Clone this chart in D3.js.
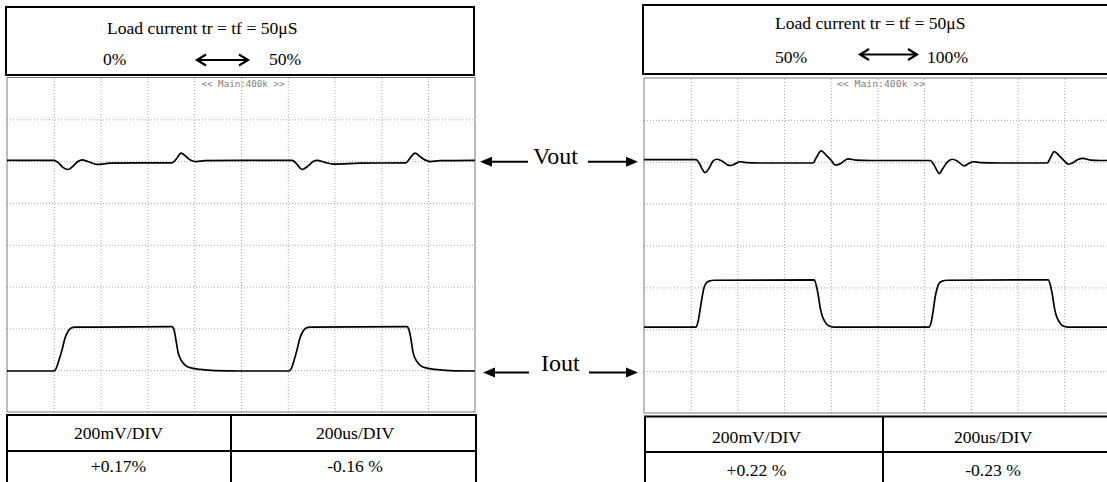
<!DOCTYPE html>
<html>
<head>
<meta charset="utf-8">
<script src="https://cdn.jsdelivr.net/npm/d3@7/dist/d3.min.js"></script>
<style>
body {
  margin: 0;
  background-color: white;
}
svg text {
  font-family: "Liberation Serif", "Times New Roman", serif;
  fill: black;
}
.grid line {
  stroke: #a8a8a8;
  stroke-dasharray: 1,2;
}
.grid path {
  display: none;
}
.tag {
  font-family: "DejaVu Sans Mono", monospace;
  font-size: 8.5px;
  fill: #808080 !important;
}
</style>
</head>
<body>
<script>

// scope settings: 200us/DIV over 10 divisions, 8 vertical divisions
const timeTicks = d3.range(200, 2000, 200);
const levelTicks = d3.range(1, 8, 1);

// traces: [time in us, screen level in divisions]
const leftVout = [[0,6.02],[200,6.02],[218,5.97],[239,5.85],[261,5.80],[282,5.88],[303,5.99],[321,6.03],[346,5.99],[385,5.92],[440,5.95],[568,5.96],[705,5.96],[722,6.04],[744,6.19],[765,6.11],[786,6.02],[808,5.99],[846,6.01],[996,6.02],[1218,6.02],[1235,5.95],[1261,5.80],[1286,5.88],[1308,5.99],[1325,6.02],[1359,5.97],[1393,5.93],[1509,5.95],[1705,5.96],[1722,6.07],[1744,6.19],[1765,6.11],[1786,6.03],[1808,5.99],[1850,6.01],[2000,6.02]];
const leftIout = [[0,0.98],[201,0.98],[209,1.03],[222,1.24],[235,1.48],[248,1.77],[261,1.93],[274,2.01],[291,2.03],[397,2.03],[705,2.04],[714,1.96],[722,1.72],[731,1.43],[744,1.24],[761,1.12],[782,1.06],[825,1.02],[889,0.99],[996,0.98],[1205,0.98],[1214,1.03],[1227,1.24],[1239,1.48],[1252,1.77],[1265,1.93],[1278,2.01],[1295,2.03],[1709,2.04],[1718,1.96],[1727,1.72],[1735,1.43],[1748,1.24],[1765,1.12],[1786,1.06],[1829,1.02],[1893,0.99],[2000,0.98]];
const rightVout = [[0,6.05],[223,6.05],[236,5.97],[249,5.83],[261,5.74],[279,5.85],[296,6.02],[313,6.06],[334,6.02],[356,5.93],[373,5.91],[390,5.95],[411,6.00],[437,5.98],[497,5.97],[724,5.97],[737,6.09],[759,6.26],[780,6.16],[801,6.04],[819,5.92],[840,5.95],[874,6.07],[909,6.04],[969,6.03],[1226,6.03],[1239,5.95],[1251,5.83],[1264,5.72],[1281,5.85],[1299,5.99],[1320,6.06],[1341,6.02],[1371,5.90],[1389,5.95],[1410,6.00],[1440,5.98],[1526,5.97],[1727,5.97],[1740,6.09],[1757,6.24],[1779,6.14],[1800,6.02],[1817,5.94],[1839,5.98],[1856,6.05],[1881,6.08],[1911,6.04],[1954,6.03],[2000,6.03]];
const rightIout = [[0,2.05],[223,2.05],[231,2.17],[240,2.46],[249,2.77],[257,2.99],[266,3.10],[279,3.15],[300,3.17],[729,3.18],[737,3.06],[746,2.82],[754,2.53],[763,2.32],[776,2.17],[789,2.09],[814,2.05],[883,2.05],[1221,2.05],[1230,2.17],[1239,2.46],[1247,2.77],[1256,2.99],[1264,3.10],[1277,3.15],[1299,3.17],[1731,3.18],[1740,3.06],[1749,2.82],[1757,2.53],[1766,2.32],[1779,2.17],[1791,2.09],[1817,2.05],[1869,2.05],[2000,2.05]];

const titleText = "Load current tr = tf = 50\u03bcS";
const leftSteps = ["0%", "50%"];
const rightSteps = ["50%", "100%"];
const scaleLabels = ["200mV/DIV", "200us/DIV"];
const leftDeviation = ["+0.17%", "-0.16 %"];
const rightDeviation = ["+0.22 %", "-0.23 %"];
const scopeTag = "<< Main:400k >>";
const traceNames = ["Vout", "Iout"];

const svg = d3.select("body")
            .append("svg")
            .attr("width", 1107)
            .attr("height", 482);

const fs = 17.6;

// panel geometry
const panels = [
  {
    box: {x: 6, y: 7, w: 468, h: 68, titleX: 107, titleY: 34, stepY: 65, fromX: 103, arrow: [197, 248, 60], toX: 269},
    scope: {x: 7, y: 77.5, w: 468, h: 334.5, tagX: 201.5, tagW: 83},
    table: {x: 7, y: 415, w: 469, mid: 231, row: 451, c1: 118.5, c2: 355, b1: 438.5, b2: 472},
    vout: leftVout, iout: leftIout, steps: leftSteps, dev: leftDeviation
  },
  {
    box: {x: 643, y: 5, w: 470, h: 69, titleX: 775, titleY: 29, stepY: 63, fromX: 775, arrow: [860, 917, 54.5], toX: 927},
    scope: {x: 644, y: 78, w: 467, h: 335, tagX: 837, tagW: 88},
    table: {x: 645, y: 416.5, w: 470, mid: 883, row: 452, c1: 756.5, c2: 993, b1: 443, b2: 476},
    vout: rightVout, iout: rightIout, steps: rightSteps, dev: rightDeviation
  }
];

const line = d3.line().curve(d3.curveMonotoneX);

panels.forEach((p, i) => {
  const b = p.box, s = p.scope, t = p.table;

  // header box
  svg.append("rect")
     .attr("x", b.x).attr("y", b.y).attr("width", b.w).attr("height", b.h)
     .attr("fill", "none").attr("stroke", "black").attr("stroke-width", 2);
  svg.append("text").attr("x", b.titleX).attr("y", b.titleY)
     .attr("font-size", fs).text(titleText);
  svg.append("text").attr("x", b.fromX).attr("y", b.stepY)
     .attr("font-size", fs).text(p.steps[0]);
  svg.append("text").attr("x", b.toX).attr("y", b.stepY)
     .attr("font-size", fs).text(p.steps[1]);
  const [ax0, ax1, ay] = b.arrow;
  svg.append("path")
     .attr("d", `M${ax0},${ay}H${ax1}M${ax0 + 9},${ay - 5.5}L${ax0},${ay}L${ax0 + 9},${ay + 5.5}M${ax1 - 9},${ay - 5.5}L${ax1},${ay}L${ax1 - 9},${ay + 5.5}`)
     .attr("fill", "none").attr("stroke", "black").attr("stroke-width", 2.2);

  // scope screen
  const x = d3.scaleLinear().domain([0, 2000]).range([s.x, s.x + s.w]);
  const y = d3.scaleLinear().domain([0, 8]).range([s.y + s.h, s.y]);

  svg.append("clipPath").attr("id", "clip" + i)
     .append("rect").attr("x", s.x).attr("y", s.y).attr("width", s.w).attr("height", s.h);

  svg.append("g")
     .attr("class", "grid")
     .attr("transform", `translate(0, ${s.y + s.h})`)
     .call(d3.axisBottom(x).tickValues(timeTicks).tickSize(-s.h).tickSizeOuter(0).tickFormat(""));
  svg.append("g")
     .attr("class", "grid")
     .attr("transform", `translate(${s.x}, 0)`)
     .call(d3.axisLeft(y).tickValues(levelTicks).tickSize(-s.w).tickSizeOuter(0).tickFormat(""));

  svg.append("rect")
     .attr("x", s.x).attr("y", s.y).attr("width", s.w).attr("height", s.h)
     .attr("fill", "none").attr("stroke", "#7a7a7a").attr("stroke-width", 1);

  svg.append("text").attr("class", "tag")
     .attr("x", s.tagX).attr("y", s.y + 9)
     .attr("textLength", s.tagW).attr("lengthAdjust", "spacingAndGlyphs")
     .text(scopeTag);

  [p.vout, p.iout].forEach(d => {
    svg.append("path")
       .attr("clip-path", `url(#clip${i})`)
       .attr("d", line(d.map(v => [x(v[0]), y(v[1])])))
       .attr("fill", "none").attr("stroke", "black").attr("stroke-width", 1.7);
  });

  // readings table
  svg.append("path")
     .attr("d", `M${t.x},482V${t.y}H${t.x + t.w}V482M${t.x},${t.row}H${t.x + t.w}M${t.mid},${t.y}V482`)
     .attr("fill", "none").attr("stroke", "black").attr("stroke-width", 2);
  svg.append("text").attr("x", t.c1).attr("y", t.b1).attr("text-anchor", "middle")
     .attr("font-size", fs).text(scaleLabels[0]);
  svg.append("text").attr("x", t.c2).attr("y", t.b1).attr("text-anchor", "middle")
     .attr("font-size", fs).text(scaleLabels[1]);
  svg.append("text").attr("x", t.c1).attr("y", t.b2).attr("text-anchor", "middle")
     .attr("font-size", fs).text(p.dev[0]);
  svg.append("text").attr("x", t.c2).attr("y", t.b2).attr("text-anchor", "middle")
     .attr("font-size", fs).text(p.dev[1]);
});

// trace labels between the two screens
const labels = [
  {name: traceNames[0], x: 533, base: 163.5, ay: 161.7, l: [480, 528], r: [588, 638]},
  {name: traceNames[1], x: 541, base: 370.5, ay: 372.5, l: [483, 529], r: [589, 638]}
];
labels.forEach(d => {
  svg.append("text").attr("x", d.x).attr("y", d.base).attr("font-size", 24).text(d.name);
  svg.append("path")
     .attr("d", `M${d.l[0] + 10},${d.ay}H${d.l[1]}M${d.r[0]},${d.ay}H${d.r[1] - 10}`)
     .attr("stroke", "black").attr("stroke-width", 2);
  svg.append("path")
     .attr("d", `M${d.l[0]},${d.ay}L${d.l[0] + 12},${d.ay - 5}L${d.l[0] + 12},${d.ay + 5}Z` +
                `M${d.r[1]},${d.ay}L${d.r[1] - 12},${d.ay - 5}L${d.r[1] - 12},${d.ay + 5}Z`)
     .attr("fill", "black");
});

</script>
</body>
</html>
